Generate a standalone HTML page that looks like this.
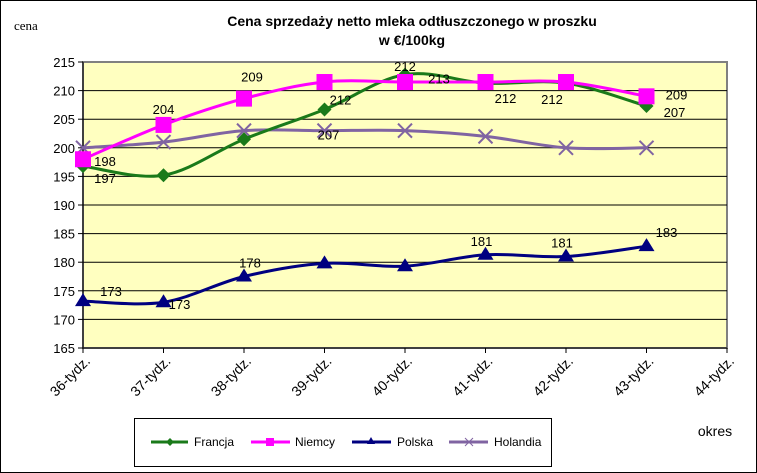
<!DOCTYPE html>
<html><head><meta charset="utf-8"><style>
body{margin:0;background:#fff}
svg{display:block;font-family:"Liberation Sans",Arial,sans-serif}
</style></head><body>
<svg width="757" height="473">
<rect x="0.5" y="0.5" width="756" height="472" fill="#fff" stroke="#000"/>
<text x="14" y="30" font-family="Liberation Serif,serif" font-size="13">cena</text>
<text x="412" y="26" text-anchor="middle" font-weight="bold" font-size="14">Cena sprzedaży netto mleka  odtłuszczonego w proszku</text>
<text x="412" y="45" text-anchor="middle" font-weight="bold" font-size="14">w €/100kg</text>
<rect x="83" y="62" width="644" height="286" fill="#ffffc0" stroke="#808080" stroke-width="2"/>
<g id="grid"></g><g id="axes"></g><g id="series"></g><g id="labels"></g>
<text x="715" y="436" text-anchor="middle" font-size="14">okres</text>
<g>
<rect x="134.5" y="418.5" width="417" height="48" fill="#fff" stroke="#000"/>
<g><line x1="151" y1="442" x2="188" y2="442" stroke="#1a7a1a" stroke-width="3"/><path d="M170 438l4 4-4 4-4-4z" fill="#1a7a1a"/><text x="194" y="446" font-size="12">Francja</text></g>
<g><line x1="251" y1="442" x2="290" y2="442" stroke="#ff00ff" stroke-width="3"/><rect x="266" y="438" width="8" height="8" fill="#ff00ff"/><text x="295" y="446" font-size="12">Niemcy</text></g>
<g><line x1="352" y1="442" x2="391" y2="442" stroke="#000080" stroke-width="3"/><path d="M371 437l4 7h-8z" fill="#000080"/><text x="397" y="446" font-size="12">Polska</text></g>
<g><line x1="449" y1="442" x2="488" y2="442" stroke="#8064a2" stroke-width="3"/><path d="M465 438l8 8M473 438l-8 8" stroke="#8064a2"/><text x="494" y="446" font-size="12">Holandia</text></g>
</g>
</svg>
<script>
const categories=["36-tydz.","37-tydz.","38-tydz.","39-tydz.","40-tydz.","41-tydz.","42-tydz.","43-tydz.","44-tydz."];
const yTicks=[165,170,175,180,185,190,195,200,205,210,215];
const francja=[196.8,195.2,201.5,206.7,212.8,211.3,211.3,207.3];
const niemcy=[198,204,208.6,211.5,211.5,211.5,211.5,209];
const polska=[173.2,173,177.5,179.8,179.3,181.3,181,182.8];
const holandia=[200,201,203,203,203,202,200,200];
const francjaLabels=["197",null,null,"212","213","212","212","207"];
const niemcyLabels=["198","204","209",null,"212",null,null,"209"];
const polskaLabels=["173","173","178",null,null,"181","181","183"];
const holandiaLabels=[null,null,null,"207",null,null,null,null];
const NS="http://www.w3.org/2000/svg";
const L=83,R=727,T=62,B=348,ymin=165,ymax=215;
const xs=i=>L+i*(R-L)/(categories.length-1);
const ys=v=>B-(v-ymin)/(ymax-ymin)*(B-T);
function mk(t,a,p){const e=document.createElementNS(NS,t);for(const k in a)e.setAttribute(k,a[k]);p.appendChild(e);return e;}
const grid=document.getElementById('grid'),axes=document.getElementById('axes'),ser=document.getElementById('series'),lab=document.getElementById('labels');
yTicks.forEach(v=>{
 if(v>ymin&&v<ymax){const g=mk('line',{x1:L,x2:R,y1:ys(v),y2:ys(v),stroke:'#000','stroke-width':1},grid);
 
 }
 const t=mk('text',{x:L-8,y:ys(v)+5,'text-anchor':'end','font-size':13},axes);t.textContent=v;
 
 
 mk('line',{x1:L-5,x2:L,y1:ys(v),y2:ys(v),stroke:'#000'},axes);
});
mk('line',{x1:L,x2:L,y1:T,y2:B,stroke:'#000'},axes);
mk('line',{x1:L,x2:R,y1:B,y2:B,stroke:'#000'},axes);
categories.forEach((c,i)=>{
 mk('line',{x1:xs(i),x2:xs(i),y1:B,y2:B+5,stroke:'#000'},axes);
 const t=mk('text',{x:0,y:0,'text-anchor':'end','font-size':14,transform:`translate(${xs(i)+8},${B+14}) rotate(-45)`},axes);t.textContent=c;
 
 
});
function curve(pts){let d=`M${pts[0][0]},${pts[0][1]}`;
 for(let i=0;i<pts.length-1;i++){const p0=pts[Math.max(0,i-1)],p1=pts[i],p2=pts[i+1],p3=pts[Math.min(pts.length-1,i+2)];
 const k=1/6;d+=`C${p1[0]+(p2[0]-p0[0])*k},${p1[1]+(p2[1]-p0[1])*k} ${p2[0]-(p3[0]-p1[0])*k},${p2[1]-(p3[1]-p1[1])*k} ${p2[0]},${p2[1]}`;}
 return d;}
function marker(type,x,y,col){
 if(type==='diamond')return mk('path',{d:`M${x},${y-7}l7,7-7,7-7-7z`,fill:col},ser);
 if(type==='square')return mk('rect',{x:x-8,y:y-8,width:16,height:16,fill:col},ser);
 if(type==='tri')return mk('path',{d:`M${x},${y-8}l8,13h-16z`,fill:col},ser);
 return mk('path',{d:`M${x-7},${y-7}l14,14M${x+7},${y-7}l-14,14`,stroke:col,'stroke-width':2},ser);
}
const series=[
 {n:'holandia',v:holandia,l:holandiaLabels,c:'#8064a2',m:'x',off:[[0,0],[0,0],[0,0],[4,4],[0,0],[0,0],[0,0],[0,0]]},
 {n:'polska',v:polska,l:polskaLabels,c:'#000080',m:'tri',off:[[28,-10],[16,2],[6,-14],[0,0],[0,0],[-4,-14],[-4,-14],[20,-14]]},
 {n:'francja',v:francja,l:francjaLabels,c:'#1a7a1a',m:'diamond',off:[[22,12],[0,0],[0,0],[16,-10],[34,4],[20,15],[-14,16],[28,6]]},
 {n:'niemcy',v:niemcy,l:niemcyLabels,c:'#ff00ff',m:'square',off:[[22,2],[0,-16],[8,-22],[0,0],[0,-16],[0,0],[0,0],[30,-2]]}
];
series.forEach(s=>{
 const pts=s.v.map((v,i)=>[xs(i),ys(v)]);
 const p=mk('path',{d:curve(pts),fill:'none',stroke:s.c,'stroke-width':3},ser);
 
 
 pts.forEach((q,i)=>{const m=marker(s.m,q[0],q[1],s.c);
  
  
  if(s.l[i]){const t=mk('text',{x:q[0]+s.off[i][0],y:q[1]+s.off[i][1]+5,'text-anchor':'middle','font-size':13},lab);t.textContent=s.l[i];
  
  }
 });
});
</script>
</body></html>
